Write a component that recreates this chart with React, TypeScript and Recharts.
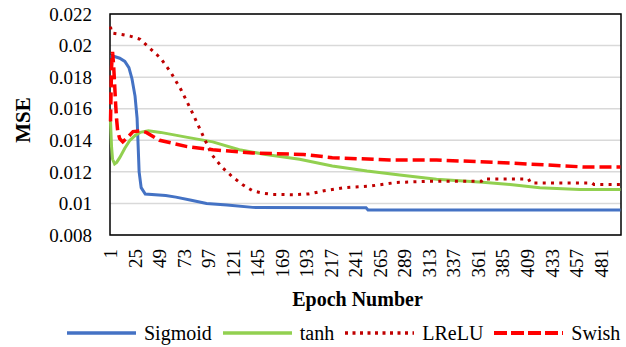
import React from "react";
import {
  LineChart,
  Line,
  XAxis,
  YAxis,
  CartesianGrid,
  Legend,
  ReferenceArea,
} from "recharts";

const FONT = "Liberation Serif, DejaVu Serif, serif";

// Training loss per epoch for each activation function
const sigmoidEpochs = [1, 5, 10, 15, 19, 22, 25, 27, 28, 29, 31, 35, 55, 65, 80, 95, 115, 140, 251, 253, 500];
const sigmoidMse = [0.0193, 0.0193, 0.0192, 0.019, 0.0186, 0.0179, 0.0168, 0.0154, 0.0137, 0.012, 0.011, 0.0106, 0.0105, 0.0104, 0.0102, 0.01, 0.0099, 0.00975, 0.00972, 0.00958, 0.00958];

const tanhEpochs = [1, 2, 3, 5, 7, 10, 15, 20, 25, 30, 38, 50, 75, 101, 127, 153, 186, 218, 252, 284, 320, 365, 392, 421, 460, 500];
const tanhMse = [0.0152, 0.0136, 0.0128, 0.0125, 0.0126, 0.0129, 0.0135, 0.014, 0.0143, 0.0145, 0.0146, 0.0145, 0.0142, 0.0139, 0.0134, 0.0131, 0.0128, 0.01237, 0.01205, 0.0118, 0.01153, 0.01134, 0.0112, 0.011, 0.01088, 0.01088];

const lreluEpochs = [1, 2, 12, 20, 30, 40, 50, 60, 70, 80, 90, 100, 110, 120, 130, 140, 150, 160, 180, 195, 210, 230, 255, 281, 311, 364, 366, 410, 412, 472, 474, 500];
const lreluMse = [0.0212, 0.0208, 0.0207, 0.0206, 0.0204, 0.0198, 0.0192, 0.0183, 0.0172, 0.0159, 0.0145, 0.0131, 0.0123, 0.0117, 0.0112, 0.0108, 0.01065, 0.01057, 0.01055, 0.0106, 0.0108, 0.011, 0.0111, 0.01133, 0.0114, 0.0114, 0.01155, 0.01155, 0.0113, 0.0113, 0.0112, 0.0112];

const swishEpochs = [1, 2, 3, 4, 5, 6, 7, 8, 10, 13, 18, 23, 30, 36, 49, 76, 101, 140, 190, 218, 274, 320, 392, 467, 500];
const swishMse = [0.0152, 0.0186, 0.0196, 0.0188, 0.0176, 0.0163, 0.0153, 0.0146, 0.0141, 0.0139, 0.0142, 0.01455, 0.0146, 0.0145, 0.014, 0.0136, 0.0134, 0.0132, 0.0131, 0.0129, 0.01275, 0.01275, 0.01256, 0.0123, 0.0123];

const epochTicks = [1, 25, 49, 73, 97, 121, 145, 169, 193, 217, 241, 265, 289, 313, 337, 361, 385, 409, 433, 457, 481];
const mseTicks = [0.008, 0.01, 0.012, 0.014, 0.016, 0.018, 0.02, 0.022];

const toRows = (epochs: number[], mse: number[]) =>
  epochs.map((epoch, i) => ({ epoch, mse: mse[i] }));

const series = [
  { name: "Sigmoid", data: toRows(sigmoidEpochs, sigmoidMse), color: "#4472C4", width: 3, dash: undefined, legendDash: undefined },
  { name: "tanh", data: toRows(tanhEpochs, tanhMse), color: "#92D050", width: 3, dash: undefined, legendDash: undefined },
  { name: "LReLU", data: toRows(lreluEpochs, lreluMse), color: "#C00000", width: 3, dash: "3 5.3", legendDash: "3 4.5" },
  { name: "Swish", data: toRows(swishEpochs, swishMse), color: "#FF0000", width: 3.5, dash: "12 5", legendDash: "13 4" },
];

const EpochTick = (props: any) => {
  const { x, y, payload } = props;
  const ty = y + 6;
  return (
    <text
      x={x}
      y={ty}
      transform={`rotate(-90 ${x} ${ty})`}
      textAnchor="end"
      dominantBaseline="central"
      fontSize={19}
      style={{ fontFamily: FONT }}
      fill="#000"
    >
      {payload.value}
    </text>
  );
};

const EpochTitle = (props: any) => {
  const { viewBox } = props;
  const cx = viewBox.x + viewBox.width / 2 - 8;
  return (
    <text x={cx} y={306} textAnchor="middle" fontSize={20} fontWeight="bold" style={{ fontFamily: FONT }} fill="#000">
      Epoch Number
    </text>
  );
};

const MseTitle = () => (
  <text
    x={30}
    y={120}
    transform="rotate(-90 30 120)"
    textAnchor="middle"
    fontSize={21}
    fontWeight="bold"
    style={{ fontFamily: FONT }}
    fill="#000"
  >
    MSE
  </text>
);

const LegendRow = () => (
  <div style={{ display: "flex", alignItems: "center", height: 28, paddingLeft: 67, fontFamily: FONT, fontSize: 20, color: "#000" }}>
    {series.map((s) => (
      <div key={s.name} style={{ display: "flex", alignItems: "center", marginRight: 11 }}>
        <svg width={69} height={10} style={{ marginRight: 8 }}>
          <line x1={0} y1={5} x2={69} y2={5} stroke={s.color} strokeWidth={s.width + 0.5} strokeDasharray={s.legendDash} />
        </svg>
        <span>{s.name}</span>
      </div>
    ))}
  </div>
);

export default function App() {
  return (
    <div style={{ position: "absolute", left: 0, top: 0, background: "#fff", fontFamily: FONT }}>
      <LineChart width={626} height={347} margin={{ top: 14, right: 5, left: 0, bottom: 0 }} style={{ fontFamily: FONT }}>
        <CartesianGrid vertical={false} stroke="#D9D9D9" strokeWidth={1.5} />
        <XAxis
          dataKey="epoch"
          type="number"
          domain={[0.5, 500.5]}
          ticks={epochTicks}
          interval={0}
          height={84}
          axisLine={false}
          tickLine={false}
          tick={<EpochTick />}
          label={<EpochTitle />}
          allowDuplicatedCategory={false}
        />
        <YAxis
          type="number"
          domain={[0.008, 0.022]}
          ticks={mseTicks}
          width={110}
          axisLine={false}
          tickLine={false}
          tickSize={0}
          tickMargin={18}
          tick={{ fontSize: 19, fill: "#000", style: { fontFamily: FONT } }}
          tickFormatter={(v: number) => String(v)}
          label={<MseTitle />}
        />
        {series.map((s) => (
          <Line
            key={s.name}
            data={s.data}
            dataKey="mse"
            name={s.name}
            type="linear"
            stroke={s.color}
            strokeWidth={s.width}
            strokeDasharray={s.dash}
            dot={false}
            activeDot={false}
            isAnimationActive={false}
          />
        ))}
        <ReferenceArea x1={0.5} x2={500.5} y1={0.008} y2={0.022} fill="none" stroke="#000" strokeWidth={1.5} ifOverflow="visible" />
        <Legend verticalAlign="bottom" height={28} content={<LegendRow />} />
      </LineChart>
    </div>
  );
}
